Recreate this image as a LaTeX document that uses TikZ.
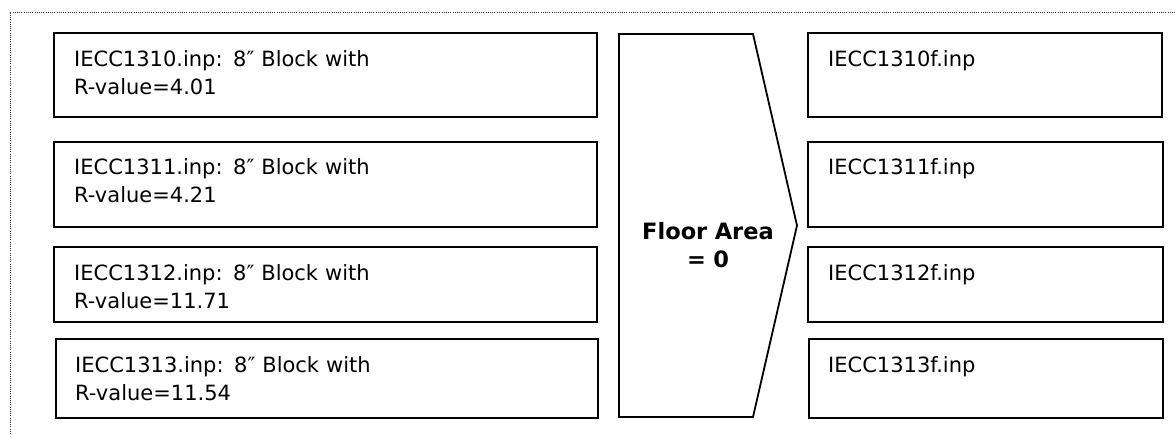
\documentclass[tikz,border=0pt]{standalone}
\usepackage{fontspec}
\setmainfont{DejaVu Sans}
\begin{document}
\begin{tikzpicture}[x=1pt,y=-1pt,
  filebox/.style={draw=black,line width=1.8pt,rectangle,inner sep=0pt,anchor=north west},
  filetext/.style={anchor=base west,inner sep=0pt,text width=510pt,align=left,
    font=\fontsize{21}{28}\selectfont},
  stagetext/.style={anchor=base,inner sep=0pt,text width=160pt,align=center,
    font=\fontsize{22.5}{28.7}\selectfont\bfseries},
  frameline/.style={draw=black!80,line width=1pt,dash pattern=on 1pt off 1.2pt}]
\useasboundingbox (0,0) rectangle (1175,434);
% dotted frame (top and left edges)
\coordinate (fbl) at (10,434);
\coordinate (ftl) at (10,12);
\coordinate (ftr) at (1175,12);
\draw[frameline] (fbl) -- (ftl) -- (ftr);
% input files
\node[filebox,minimum width=543pt,minimum height=84pt] (l1) at (53,32) {};
\node[filebox,minimum width=543pt,minimum height=85pt] (l2) at (53,141) {};
\node[filebox,minimum width=543pt,minimum height=75pt] (l3) at (53,246) {};
\node[filebox,minimum width=542pt,minimum height=79pt] (l4) at (55,338) {};
\node[filetext] (lt1) at ([shift={(21,34)}]l1.north west) {IECC1310.inp: 8″ Block with\\R-value=4.01};
\node[filetext] (lt2) at ([shift={(21,33.5)}]l2.north west) {IECC1311.inp: 8″ Block with\\R-value=4.21};
\node[filetext] (lt3) at ([shift={(21,34)}]l3.north west) {IECC1312.inp: 8″ Block with\\R-value=11.71};
\node[filetext] (lt4) at ([shift={(20,34)}]l4.north west) {IECC1313.inp: 8″ Block with\\R-value=11.54};
% processing step
\coordinate (a1) at (619,34);
\coordinate (a2) at (753,34);
\coordinate (a3) at (797,225.5);
\coordinate (a4) at (753,417);
\coordinate (a5) at (619,417);
\draw[line width=1.8pt,line join=miter] (a1) -- (a2) -- (a3) -- (a4) -- (a5) -- cycle;
\node[stagetext] (st) at (708,239) {Floor Area\\= 0};
% output files
\node[filebox,minimum width=354pt,minimum height=84pt] (r1) at (807,32) {};
\node[filebox,minimum width=355pt,minimum height=85pt] (r2) at (807,141) {};
\node[filebox,minimum width=355pt,minimum height=75pt] (r3) at (807,246) {};
\node[filebox,minimum width=354pt,minimum height=79pt] (r4) at (808,338) {};
\node[filetext] (rt1) at ([shift={(21,34)}]r1.north west) {IECC1310f.inp};
\node[filetext] (rt2) at ([shift={(21,33.5)}]r2.north west) {IECC1311f.inp};
\node[filetext] (rt3) at ([shift={(21,34)}]r3.north west) {IECC1312f.inp};
\node[filetext] (rt4) at ([shift={(20,34)}]r4.north west) {IECC1313f.inp};
\end{tikzpicture}
\end{document}
